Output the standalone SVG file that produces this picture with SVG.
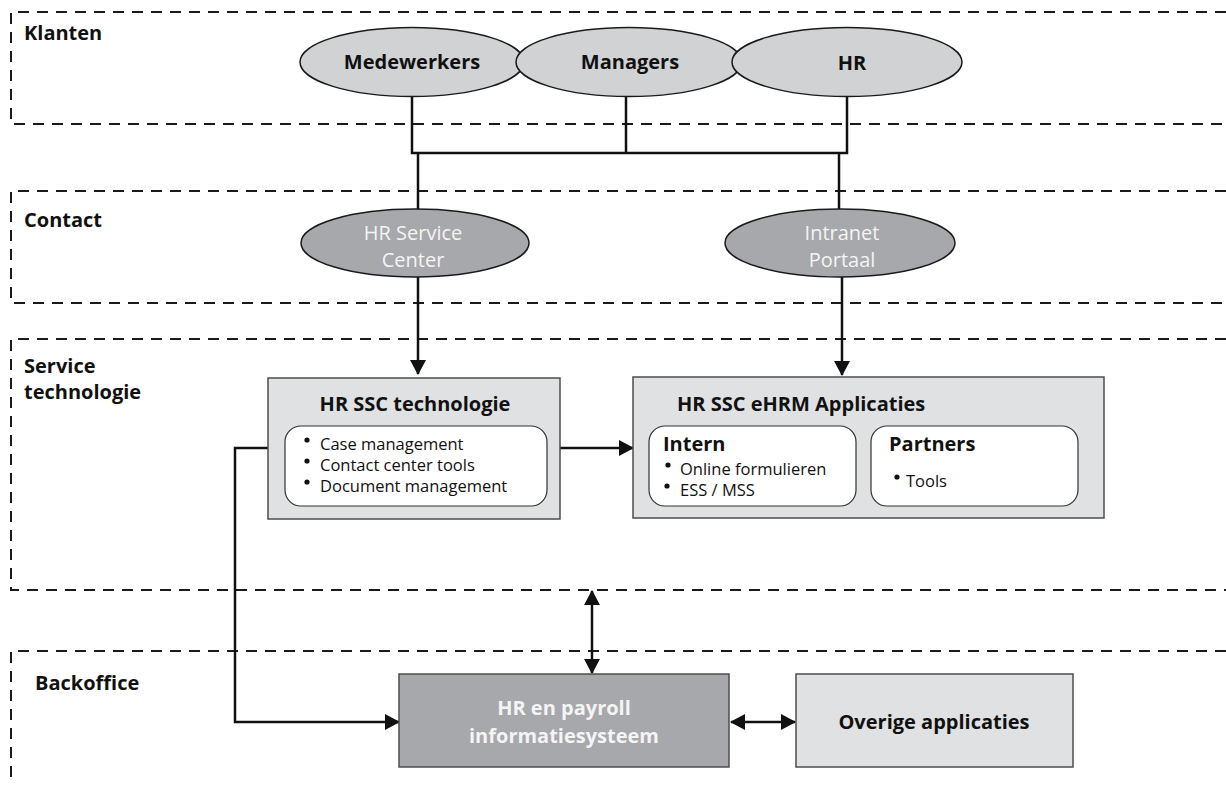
<svg xmlns="http://www.w3.org/2000/svg" width="1226" height="786" viewBox="0 0 1226 786">
<style>
  .band { fill: none; stroke: #1a1a1a; stroke-width: 2; stroke-dasharray: 11 8; }
  .lbl { font-family: "Open Sans", "Liberation Sans", sans-serif; font-weight: 700; font-size: 20px; fill: #111; }
  .ell1 { fill: #d1d2d4; stroke: #1a1a1a; stroke-width: 1.5; }
  .ell2 { fill: #a7a8ab; stroke: #1a1a1a; stroke-width: 1.5; }
  .boxl { fill: #e0e1e2; stroke: #4d4d4d; stroke-width: 1.5; }
  .boxd { fill: #a7a8ab; stroke: #4d4d4d; stroke-width: 1.5; }
  .inner { fill: #ffffff; stroke: #333; stroke-width: 1.2; }
  .tb { font-family: "Open Sans", "Liberation Sans", sans-serif; font-weight: 700; font-size: 20px; fill: #111; }
  .tw { font-family: "Open Sans", "Liberation Sans", sans-serif; font-weight: 400; font-size: 20px; fill: #f4f4f4; }
  .twb { font-family: "Open Sans", "Liberation Sans", sans-serif; font-weight: 700; font-size: 20px; fill: #f4f4f4; }
  .tr { font-family: "Open Sans", "Liberation Sans", sans-serif; font-weight: 400; font-size: 16.5px; fill: #111; }
  .bul { fill: #111; }
  .con { fill: none; stroke: #111; stroke-width: 2.5; stroke-linejoin: miter; }
</style>
<defs>
  <marker id="ah" markerUnits="userSpaceOnUse" markerWidth="16" markerHeight="16" viewBox="0 0 15 16" refX="14" refY="8" orient="auto-start-reverse">
    <path d="M0,0 L15,8 L0,16 z" fill="#111"/>
  </marker>
</defs>

<g id="bands">
  <path class="band" d="M1226,12 H11 V124 H1226"/>
  <path class="band" d="M1226,191 H11 V303 H1226"/>
  <path class="band" d="M1226,339 H11 V590 H1226"/>
  <path class="band" d="M1226,651 H11 V778"/>
  <text class="lbl" x="24" y="40">Klanten</text>
  <text class="lbl" x="24" y="227">Contact</text>
  <text class="lbl" x="24" y="373">Service</text>
  <text class="lbl" x="24" y="399">technologie</text>
  <text class="lbl" x="35" y="690">Backoffice</text>
</g>

<g id="connectors">
  <path class="con" d="M412,97 V153 H847 V97"/>
  <path class="con" d="M626,97 V153"/>
  <path class="con" d="M418,153 V210"/>
  <path class="con" d="M839,153 V210"/>
  <path class="con" d="M418,277 V374" marker-end="url(#ah)"/>
  <path class="con" d="M842,277 V375" marker-end="url(#ah)"/>
  <path class="con" d="M560,448 H633" marker-end="url(#ah)"/>
  <path class="con" d="M268,448 H235 V722 H399" marker-end="url(#ah)"/>
  <path class="con" d="M592,591 V673" marker-start="url(#ah)" marker-end="url(#ah)"/>
  <path class="con" d="M731,722 H795" marker-start="url(#ah)" marker-end="url(#ah)"/>
</g>

<g id="medewerkers">
  <ellipse class="ell1" cx="412" cy="62" rx="112" ry="34.5"/>
  <text class="tb" x="412" y="69" text-anchor="middle">Medewerkers</text>
</g>
<g id="managers">
  <ellipse class="ell1" cx="629" cy="62" rx="113" ry="34.5"/>
  <text class="tb" x="630" y="69" text-anchor="middle">Managers</text>
</g>
<g id="hr">
  <ellipse class="ell1" cx="847" cy="62" rx="115" ry="34.5"/>
  <text class="tb" x="852" y="70" text-anchor="middle">HR</text>
</g>

<g id="hr-service-center">
  <ellipse class="ell2" cx="415" cy="243" rx="114" ry="34"/>
  <text class="tw" x="413" y="240" text-anchor="middle">HR Service</text>
  <text class="tw" x="413" y="267" text-anchor="middle">Center</text>
</g>
<g id="intranet-portaal">
  <ellipse class="ell2" cx="840" cy="243" rx="115" ry="34"/>
  <text class="tw" x="842" y="240" text-anchor="middle">Intranet</text>
  <text class="tw" x="842" y="267" text-anchor="middle">Portaal</text>
</g>

<g id="hr-ssc-technologie">
  <rect class="boxl" x="268" y="378" width="292" height="141"/>
  <text class="tb" x="415" y="411" text-anchor="middle">HR SSC technologie</text>
  <rect class="inner" x="285" y="426" width="262" height="80" rx="16"/>
  <circle class="bul" cx="307" cy="440" r="2.6"/>
  <text class="tr" x="320" y="450">Case management</text>
  <circle class="bul" cx="307" cy="461" r="2.6"/>
  <text class="tr" x="320" y="471">Contact center tools</text>
  <circle class="bul" cx="307" cy="482" r="2.6"/>
  <text class="tr" x="320" y="492">Document management</text>
</g>

<g id="hr-ssc-ehrm">
  <rect class="boxl" x="633" y="377" width="471" height="141"/>
  <text class="tb" x="677" y="411">HR SSC eHRM Applicaties</text>
  <g id="intern">
    <rect class="inner" x="649" y="426" width="207" height="80" rx="16"/>
    <text class="tb" x="663" y="451">Intern</text>
    <circle class="bul" cx="668" cy="465" r="2.6"/>
    <text class="tr" x="680" y="475">Online formulieren</text>
    <circle class="bul" cx="667" cy="486" r="2.6"/>
    <text class="tr" x="680" y="496">ESS / MSS</text>
  </g>
  <g id="partners">
    <rect class="inner" x="871" y="426" width="207" height="80" rx="16"/>
    <text class="tb" x="889" y="451">Partners</text>
    <circle class="bul" cx="897" cy="477" r="2.6"/>
    <text class="tr" x="906" y="487">Tools</text>
  </g>
</g>

<g id="hr-payroll">
  <rect class="boxd" x="399" y="674" width="330" height="93"/>
  <text class="twb" x="564" y="715" text-anchor="middle">HR en payroll</text>
  <text class="twb" x="564" y="743" text-anchor="middle">informatiesysteem</text>
</g>

<g id="overige-applicaties">
  <rect class="boxl" x="796" y="674" width="277" height="93"/>
  <text class="tb" x="934" y="729" text-anchor="middle">Overige applicaties</text>
</g>
</svg>
